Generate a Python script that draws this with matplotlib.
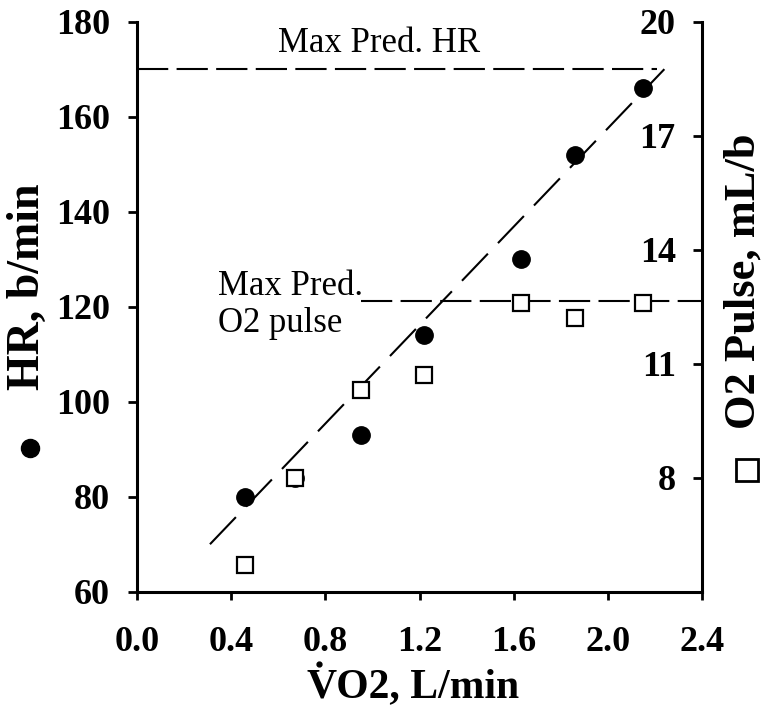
import numpy as np
import matplotlib
matplotlib.use('Agg')
from matplotlib import pyplot as plt
from matplotlib.lines import Line2D

plt.rcParams['font.family'] = ['Liberation Serif', 'DejaVu Serif']

# VO2 during the incremental test, L/min
vo2 = [0.46, 0.67, 0.95, 1.22, 1.63, 1.86, 2.15]
hr = [80, 84, 93, 114, 130, 152, 166]                # heart rate, b/min
o2_pulse = [5.7, 8.0, 10.3, 10.7, 12.6, 12.2, 12.6]  # O2 pulse, mL/b

# HR-VO2 relation and predicted maxima
vo2_line = [0.31, 2.24]
hr_line = [70, 170]
max_hr = 170
max_hr_vo2 = [0.0, 2.21]
max_o2_pulse = 12.65
max_o2_vo2 = [0.95, 2.4]

xticks = [0.0, 0.4, 0.8, 1.2, 1.6, 2.0, 2.4]
hr_ticks = [60, 80, 100, 120, 140, 160, 180]
o2_ticks = [8, 11, 14, 17, 20]

fig = plt.figure(figsize=(7.67, 7.15), dpi=100)
ax = fig.add_axes([0.1786, 0.1724, 0.7367, 0.7973])
ax2 = ax.twinx()

lw = 1.5
ax.plot(max_hr_vo2, [max_hr, max_hr], color='k', lw=lw, dashes=(15, 4))
ax.plot(vo2_line, hr_line, color='k', lw=lw, dashes=(18, 7))
ax.plot(vo2, hr, 'o', color='k', ms=12.5, zorder=3)

ax2.plot(max_o2_vo2, [max_o2_pulse, max_o2_pulse], color='k', lw=lw, dashes=(15, 4))
ax2.plot(vo2, o2_pulse, 's', mfc='white', mec='k', mew=1.6, ms=11.5, zorder=3)

ax.text(0.60, 173.6, 'Max Pred. HR', fontsize=25)
ax.text(0.344, 114.7, 'Max Pred.\nO2 pulse', fontsize=25, linespacing=1.15)

ax.set_xlim(0, 2.4)
ax.set_ylim(60, 180)
ax2.set_ylim(5, 20)
ax.set_xticks(xticks)
ax.set_xticklabels([f'{t:.1f}' for t in xticks])
ax.set_yticks(hr_ticks)
ax2.set_yticks(o2_ticks)

for a in (ax, ax2):
    a.spines['top'].set_visible(False)
    for s in a.spines.values():
        s.set_linewidth(2.2)
ax.spines['right'].set_visible(False)
ax2.spines['left'].set_visible(False)
ax2.spines['bottom'].set_visible(False)

ax.tick_params(axis='y', direction='out', length=6.5, width=2, pad=13, labelsize=26)
ax.tick_params(axis='x', direction='out', length=6, width=2, pad=19, labelsize=26)
ax2.tick_params(axis='y', direction='in', length=6.5, width=2, pad=-19, labelsize=26)
for lbl in ax.get_xticklabels() + ax.get_yticklabels() + ax2.get_yticklabels():
    lbl.set_fontweight('bold')
plt.setp(ax2.get_yticklabels(), ha='right')

# axis titles with their marker keys
fig.text(0.0365, 0.5986, 'HR, b/min', rotation=90, fontsize=33, fontweight='bold',
         ha='center', va='center')
fig.add_artist(Line2D([0.039], [0.373], marker='o', color='k', ms=13,
                      transform=fig.transFigure))
fig.text(0.984, 0.6063, 'O2 Pulse, mL/b', rotation=90, rotation_mode='anchor',
         fontsize=32, fontweight='bold', ha='center', va='baseline')
fig.add_artist(Line2D([0.974], [0.343], marker='s', mfc='white', mec='k', mew=2,
                      ms=16, transform=fig.transFigure))
fig.text(0.538, 0.0252, 'VO2, L/min', fontsize=30, fontweight='bold',
         ha='center', va='baseline')
# rate dot over the V
fig.add_artist(Line2D([0.416], [0.0713], marker='o', color='k', ms=3.5,
                      transform=fig.transFigure))

fig.savefig('out.png', dpi=100)
